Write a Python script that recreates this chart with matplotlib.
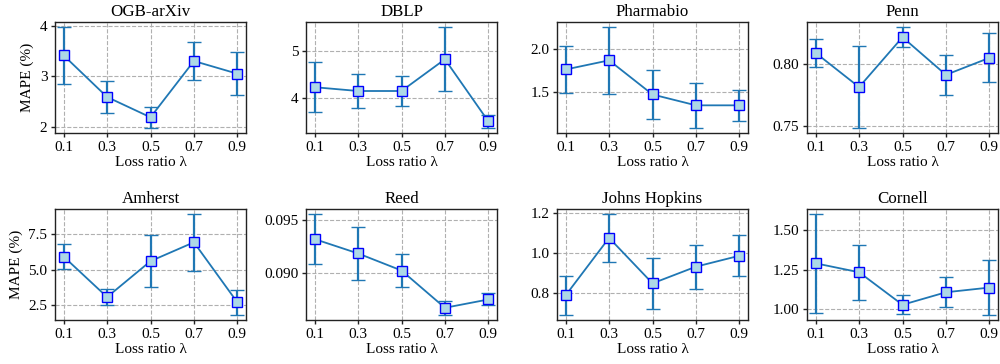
import matplotlib
matplotlib.use("Agg")
import matplotlib.pyplot as plt

plt.rcParams['font.family'] = ['Liberation Serif', 'DejaVu Serif']
plt.rcParams['mathtext.fontset'] = 'stix'

ratios = [0.1, 0.3, 0.5, 0.7, 0.9]
tick_labels = ["0.1", "0.3", "0.5", "0.7", "0.9"]

titles = ["OGB-arXiv", "DBLP", "Pharmabio", "Penn",
          "Amherst", "Reed", "Johns Hopkins", "Cornell"]

ogb_mean = [3.41, 2.59, 2.19, 3.30, 3.05]
ogb_std = [0.56, 0.31, 0.21, 0.37, 0.42]
dblp_mean = [4.23, 4.15, 4.15, 4.82, 3.51]
dblp_std = [0.53, 0.35, 0.31, 0.68, 0.14]
pharma_mean = [1.758, 1.865, 1.465, 1.338, 1.338]
pharma_std = [0.27, 0.39, 0.29, 0.265, 0.18]
penn_mean = [0.8091, 0.7815, 0.8218, 0.7914, 0.8051]
penn_std = [0.0115, 0.033, 0.0082, 0.016, 0.0198]
amherst_mean = [5.93, 3.08, 5.61, 6.94, 2.71]
amherst_std = [0.87, 0.56, 1.82, 1.99, 0.89]
reed_mean = [0.09323, 0.09187, 0.09025, 0.08671, 0.0875]
reed_std = [0.00238, 0.0025, 0.0016, 0.00068, 0.00057]
jh_mean = [0.788, 1.077, 0.848, 0.932, 0.987]
jh_std = [0.099, 0.12, 0.13, 0.111, 0.102]
cornell_mean = [1.290, 1.233, 1.025, 1.105, 1.135]
cornell_std = [0.315, 0.177, 0.062, 0.096, 0.175]

means = [ogb_mean, dblp_mean, pharma_mean, penn_mean,
         amherst_mean, reed_mean, jh_mean, cornell_mean]
stds = [ogb_std, dblp_std, pharma_std, penn_std,
        amherst_std, reed_std, jh_std, cornell_std]

yticks = [[2, 3, 4], [4, 5], [1.5, 2.0], [0.75, 0.80],
          [2.5, 5.0, 7.5], [0.090, 0.095], [0.8, 1.0, 1.2], [1.00, 1.25, 1.50]]
ytick_labels = [["2", "3", "4"], ["4", "5"], ["1.5", "2.0"], ["0.75", "0.80"],
                ["2.5", "5.0", "7.5"], ["0.090", "0.095"], ["0.8", "1.0", "1.2"],
                ["1.00", "1.25", "1.50"]]

fig = plt.figure(figsize=(10, 3.64), dpi=100)
lefts = [0.055, 0.306, 0.557, 0.807]
width = 0.191
bottoms = [1 - 133/364, 1 - 320/364]
height = 111/364

for i in range(8):
    r, c = divmod(i, 4)
    ax = fig.add_axes([lefts[c], bottoms[r], width, height])
    ax.errorbar(ratios, means[i], yerr=stds[i], color='#1f77b4', lw=1.3,
                elinewidth=1.6, capsize=5, capthick=1.4,
                marker='s', markersize=7, markerfacecolor='lightblue',
                markeredgecolor='blue', markeredgewidth=1.0, zorder=3)
    ax.set_title(titles[i], fontsize=12.2, pad=4)
    ax.set_xticks(ratios)
    ax.set_xticklabels(tick_labels)
    ax.set_yticks(yticks[i])
    ax.set_yticklabels(ytick_labels[i])
    ax.tick_params(labelsize=11, length=3, width=1.0, pad=2.5, color='#222222')
    ax.grid(True, linestyle='--', color='#b0b0b0', lw=0.8)
    ax.set_axisbelow(True)
    for s in ax.spines.values():
        s.set_color('#222222')
        s.set_linewidth(1.0)
    ax.set_xlabel('Loss ratio λ', fontsize=11, labelpad=2)
    if c == 0:
        ax.set_ylabel('MAPE (%)', fontsize=11, labelpad=4)

fig.savefig('out.png', dpi=100)
